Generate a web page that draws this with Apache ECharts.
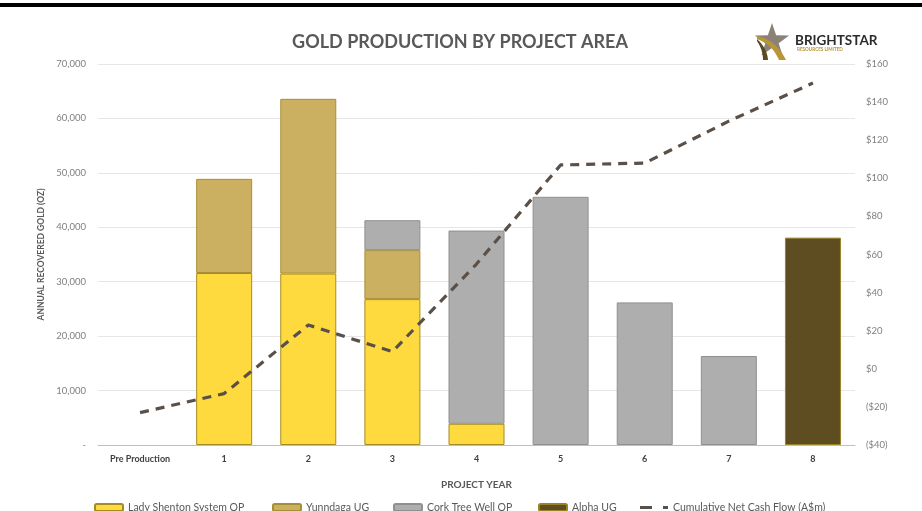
<!DOCTYPE html>
<html>
<head>
<meta charset="utf-8">
<script src="https://cdn.jsdelivr.net/npm/echarts@6/dist/echarts.min.js"></script>
<style>
html,body{margin:0;padding:0;background:#fff;}
#c{width:922px;height:511px;}
</style>
</head>
<body>
<div id="c"></div>
<script>
const categories = ['Pre Production','1','2','3','4','5','6','7','8'];
const ladyShenton = [null, 31600, 31500, 26800, 3900, null, null, null, null];
const yunndaga    = [null, 17300, 32100, 9000, null, null, null, null, null];
const corkTree    = [null, null, null, 5500, 35500, 45600, 26200, 16350, null];
const alphaUG     = [null, null, null, null, null, null, null, null, 38100];
const cashFlow    = [-23, -13, 23, 9, 55, 107, 108, 130, 150];

const FONT = 'Lato, "Open Sans", sans-serif';
const chart = echarts.init(document.getElementById('c'), null, {renderer:'canvas'});

// logo helpers (decoration only)
function starPoints(cx, cy, R, r){
  const pts = [];
  for (let i = 0; i < 10; i++){
    const a = -Math.PI/2 + i*Math.PI/5;
    const rad = i % 2 === 0 ? R : r;
    pts.push([cx + rad*Math.cos(a), cy + rad*Math.sin(a)]);
  }
  return pts;
}
function quad(p0, p1, p2, n){
  const out = [];
  for (let i = 0; i <= n; i++){
    const t = i/n, u = 1-t;
    out.push([u*u*p0[0] + 2*u*t*p1[0] + t*t*p2[0], u*u*p0[1] + 2*u*t*p1[1] + t*t*p2[1]]);
  }
  return out;
}
function band(a0, a1, a2, b0, b1, b2){
  return quad(a0, a1, a2, 16).concat(quad(b2, b1, b0, 16));
}

function barSeries(name, data, fill, border){
  return {
    name: name, type: 'bar', stack: 'gold', data: data,
    barWidth: 56,
    itemStyle: {color: fill, borderColor: border, borderWidth: 1},
    emphasis: {disabled: true}
  };
}

function legendAt(item, left, extra){
  return Object.assign({
    data: [item], left: left, top: 502,
    itemWidth: 28, itemHeight: 7, itemGap: 4,
    textStyle: {fontFamily: FONT, fontSize: 10.5, color: '#595959'},
    padding: 0
  }, extra || {});
}

chart.setOption({
  animation: false,
  backgroundColor: '#fff',
  title: {
    text: 'GOLD PRODUCTION BY PROJECT AREA',
    left: 455, textAlign: 'center', top: 28,
    textStyle: {fontFamily: FONT, fontSize: 18, fontWeight: 'bold', color: '#595959'}
  },
  graphic: [
    {type: 'rect', shape: {x: 0, y: 3, width: 922, height: 4}, style: {fill: '#000'}},
    {type: 'polygon', shape: {points: starPoints(772, 41, 18, 7)}, style: {fill: '#8a8177'}},
    {type: 'polygon', shape: {points: band([757,36],[776,40],[786,60],[757,39],[772,44],[779,60])}, style: {fill: '#b99536'}},
    {type: 'polygon', shape: {points: band([757,39],[767,48],[768,60],[757,41],[763,50],[763,60])}, style: {fill: '#5a4a22'}},
    {type: 'text', x: 795, y: 34, style: {text: 'BRIGHTSTAR', fontFamily: FONT, fontSize: 13.5, fontWeight: 'bold', fill: '#2b2b2b'}},
    {type: 'text', x: 797, y: 47.5, style: {text: 'RESOURCES LIMITED', fontFamily: FONT, fontSize: 4.6, fontWeight: 'bold', fill: '#b8952e'}}
  ],
  legend: [
    legendAt('Lady Shenton System OP', 94),
    legendAt('Yunndaga UG', 272),
    legendAt('Cork Tree Well OP', 393),
    legendAt('Alpha UG', 538),
    legendAt({name: 'Cumulative Net Cash Flow (A$m)', icon: 'path://M0 0H12V3H0Z M23 0H28V3H23Z'}, 640,
      {itemHeight: 3})
  ],
  grid: {left: 98, right: 67, top: 64, bottom: 66, containLabel: false},
  xAxis: {
    type: 'category', data: categories,
    name: 'PROJECT YEAR', nameLocation: 'middle', nameGap: 35,
    nameTextStyle: {fontFamily: FONT, fontSize: 10, fontWeight: 'bold', color: '#595959'},
    axisLine: {lineStyle: {color: '#bfbfbf', width: 1}},
    axisTick: {show: false},
    axisLabel: {fontFamily: FONT, fontSize: 9, fontWeight: 'bold', color: '#404040', margin: 10}
  },
  yAxis: [
    {
      type: 'value', min: 0, max: 70000, interval: 10000,
      name: 'ANNUAL RECOVERED GOLD (OZ)', nameLocation: 'middle', nameGap: 46, nameRotate: 90,
      nameTextStyle: {fontFamily: FONT, fontSize: 8.5, fontWeight: 'bold', color: '#595959'},
      axisLine: {show: false}, axisTick: {show: false},
      splitLine: {lineStyle: {color: '#e6e6e6', width: 1}},
      axisLabel: {
        fontFamily: FONT, fontSize: 9.5, color: '#808080', margin: 12,
        formatter: v => v === 0 ? '-' : v.toLocaleString('en-US')
      }
    },
    {
      type: 'value', min: -40, max: 160, interval: 20,
      axisLine: {show: false}, axisTick: {show: false}, splitLine: {show: false},
      axisLabel: {
        fontFamily: FONT, fontSize: 9.5, color: '#808080', margin: 11,
        formatter: v => v < 0 ? '($' + (-v) + ')' : '$' + v
      }
    }
  ],
  series: [
    barSeries('Lady Shenton System OP', ladyShenton, '#ffda3e', '#a68b22'),
    barSeries('Yunndaga UG', yunndaga, '#cbb062', '#a88f36'),
    barSeries('Cork Tree Well OP', corkTree, '#aeaeae', '#909090'),
    barSeries('Alpha UG', alphaUG, '#5e4d21', '#9a8125'),
    {
      name: 'Cumulative Net Cash Flow (A$m)', type: 'line', yAxisIndex: 1,
      data: cashFlow, symbol: 'none', z: 5,
      lineStyle: {color: '#5a5048', width: 3.2, type: [9, 7]},
      itemStyle: {color: '#5a5048'},
      emphasis: {disabled: true}
    }
  ]
});
</script>
</body>
</html>
